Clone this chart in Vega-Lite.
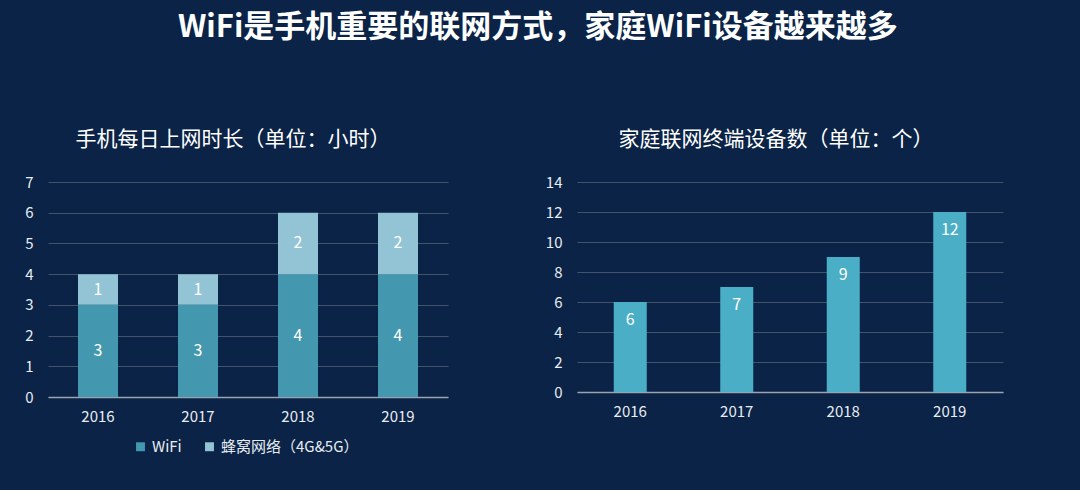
{
  "$schema": "https://vega.github.io/schema/vega-lite/v6.json",
  "background": "#0a2346",
  "padding": {"left": 24, "top": 12, "right": 77, "bottom": 40},
  "title": {
    "text": "WiFi是手机重要的联网方式，家庭WiFi设备越来越多",
    "color": "#ffffff",
    "fontSize": 31,
    "fontWeight": "bold",
    "font": "Noto Sans CJK SC",
    "anchor": "middle",
    "offset": 85,
    "dx": 24
  },
  "datasets": {
    "phone": [
      {"year": "2016", "type": "WiFi", "hours": 3, "ord": 1},
      {"year": "2016", "type": "蜂窝网络（4G&5G）", "hours": 1, "ord": 2},
      {"year": "2017", "type": "WiFi", "hours": 3, "ord": 1},
      {"year": "2017", "type": "蜂窝网络（4G&5G）", "hours": 1, "ord": 2},
      {"year": "2018", "type": "WiFi", "hours": 4, "ord": 1},
      {"year": "2018", "type": "蜂窝网络（4G&5G）", "hours": 2, "ord": 2},
      {"year": "2019", "type": "WiFi", "hours": 4, "ord": 1},
      {"year": "2019", "type": "蜂窝网络（4G&5G）", "hours": 2, "ord": 2}
    ],
    "devices": [
      {"year": "2016", "count": 6},
      {"year": "2017", "count": 7},
      {"year": "2018", "count": 9},
      {"year": "2019", "count": 12}
    ]
  },
  "config": {
    "font": "Noto Sans CJK SC",
    "view": {"stroke": null},
    "axis": {
      "labelColor": "#e8edf3",
      "labelFontSize": 15,
      "gridColor": "#40546c",
      "gridWidth": 1,
      "domain": false,
      "ticks": false,
      "title": null
    },
    "axisX": {
      "domain": true,
      "domainColor": "#9aa3ae",
      "domainWidth": 1.5,
      "labelAngle": 0,
      "labelPadding": 12,
      "grid": false
    },
    "axisY": {"labelPadding": 15, "grid": true},
    "legend": {
      "labelColor": "#e8edf3",
      "labelFontSize": 15
    }
  },
  "spacing": 97,
  "hconcat": [
    {
      "width": 400,
      "height": 215,
      "title": {
        "text": "手机每日上网时长（单位：小时）",
        "fontSize": 21,
        "fontWeight": "normal",
        "color": "#ffffff",
        "offset": 25,
        "dx": -15
      },
      "data": {"name": "phone"},
      "encoding": {
        "x": {
          "field": "year",
          "type": "nominal",
          "scale": {"paddingInner": 0.6, "paddingOuter": 0.3}
        }
      },
      "layer": [
        {
          "mark": {"type": "bar"},
          "encoding": {
            "y": {
              "field": "hours",
              "type": "quantitative",
              "stack": "zero",
              "scale": {"domain": [0, 7]},
              "axis": {"values": [0, 1, 2, 3, 4, 5, 6, 7]}
            },
            "color": {
              "field": "type",
              "type": "nominal",
              "scale": {
                "domain": ["WiFi", "蜂窝网络（4G&5G）"],
                "range": ["#4397ae", "#93c4d6"]
              },
              "legend": {
                "title": null,
                "orient": "none",
                "legendX": 85,
                "legendY": 257,
                "direction": "horizontal",
                "symbolType": "square",
                "symbolSize": 80,
                "symbolStrokeWidth": 0,
                "labelOffset": 4,
                "columnPadding": 20
              }
            },
            "order": {"field": "ord"}
          }
        },
        {
          "mark": {"type": "text", "color": "#ffffff", "fontSize": 16},
          "encoding": {
            "y": {
              "field": "hours",
              "type": "quantitative",
              "stack": "zero",
              "bandPosition": 0.5,
              "scale": {"domain": [0, 7]},
              "axis": {"values": [0, 1, 2, 3, 4, 5, 6, 7]}
            },
            "detail": {"field": "type"},
            "order": {"field": "ord"},
            "text": {"field": "hours", "type": "quantitative"}
          }
        }
      ]
    },
    {
      "width": 426,
      "height": 210,
      "title": {
        "text": "家庭联网终端设备数（单位：个）",
        "fontSize": 21,
        "fontWeight": "normal",
        "color": "#ffffff",
        "offset": 25,
        "dx": -14
      },
      "data": {"name": "devices"},
      "encoding": {
        "x": {
          "field": "year",
          "type": "nominal",
          "scale": {"paddingInner": 0.69, "paddingOuter": 0.345}
        },
        "y": {
          "field": "count",
          "type": "quantitative",
          "scale": {"domain": [0, 14]},
          "axis": {"values": [0, 2, 4, 6, 8, 10, 12, 14]}
        }
      },
      "layer": [
        {"mark": {"type": "bar", "color": "#4aaec6"}},
        {
          "mark": {
            "type": "text",
            "color": "#ffffff",
            "fontSize": 16,
            "baseline": "top",
            "dy": 10
          },
          "encoding": {"text": {"field": "count", "type": "quantitative"}}
        }
      ]
    }
  ]
}
